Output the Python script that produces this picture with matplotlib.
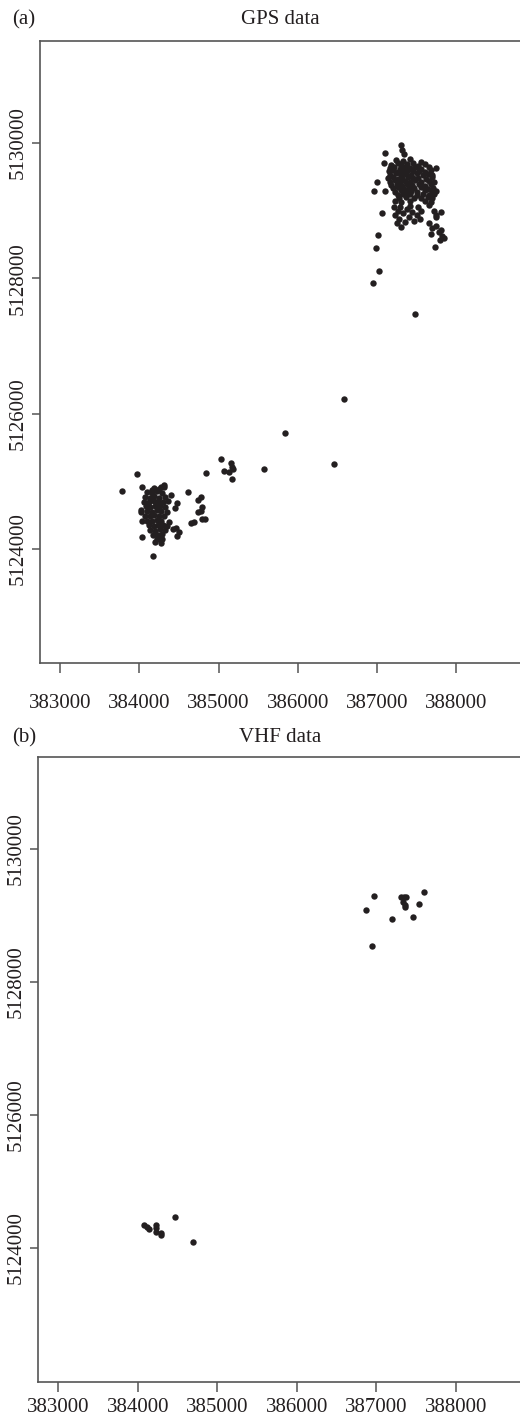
import matplotlib
matplotlib.use("Agg")
import matplotlib.pyplot as plt

plt.rcParams['font.family'] = ['Liberation Serif', 'DejaVu Serif']
plt.rcParams['font.size'] = 15
plt.rcParams['text.color'] = "#231f20"
plt.rcParams['axes.edgecolor'] = "#555555"
plt.rcParams['axes.linewidth'] = 1.2
plt.rcParams['xtick.color'] = "#555555"
plt.rcParams['ytick.color'] = "#555555"
plt.rcParams['xtick.labelcolor'] = "#231f20"
plt.rcParams['ytick.labelcolor'] = "#231f20"

INK = "#231f20"

x_ticks = [383000, 384000, 385000, 386000, 387000, 388000]
y_ticks = [5124000, 5126000, 5128000, 5130000]

# GPS fixes, north-east cluster (dense core)
gps_ne_east = [
    387240, 387330, 387410, 387560,
    387180, 387260, 387300, 387380, 387450, 387520, 387600,
    387160, 387220, 387290, 387350, 387420, 387480, 387560, 387650,
    387150, 387200, 387270, 387330, 387390, 387460, 387530, 387600, 387680,
    387170, 387240, 387300, 387360, 387430, 387500, 387580, 387640, 387700,
    387140, 387200, 387260, 387320, 387390, 387450, 387520, 387620, 387690,
    387160, 387230, 387290, 387350, 387420, 387480, 387550, 387660, 387720,
    387180, 387250, 387310, 387380, 387440, 387530, 387600, 387680,
    387200, 387270, 387340, 387400, 387470, 387560, 387640, 387710,
    387230, 387300, 387360, 387430, 387500, 387600, 387690, 387740,
    387260, 387330, 387420, 387510, 387580, 387650, 387720,
    387280, 387360, 387470, 387560, 387640, 387700,
    387230, 387300, 387420, 387600, 387680,
]
gps_ne_north = [
    5129750, 5129730, 5129760, 5129720,
    5129680, 5129700, 5129670, 5129690, 5129710, 5129660, 5129690,
    5129630, 5129650, 5129620, 5129640, 5129630, 5129650, 5129620, 5129640,
    5129580, 5129600, 5129570, 5129590, 5129600, 5129580, 5129590, 5129570, 5129600,
    5129530, 5129550, 5129520, 5129540, 5129530, 5129550, 5129520, 5129540, 5129530,
    5129480, 5129500, 5129470, 5129490, 5129500, 5129480, 5129490, 5129470, 5129500,
    5129430, 5129450, 5129420, 5129440, 5129430, 5129450, 5129420, 5129440, 5129430,
    5129380, 5129400, 5129370, 5129390, 5129380, 5129400, 5129370, 5129390,
    5129330, 5129350, 5129320, 5129340, 5129330, 5129350, 5129320, 5129340,
    5129280, 5129300, 5129270, 5129290, 5129280, 5129300, 5129270, 5129290,
    5129230, 5129250, 5129240, 5129230, 5129250, 5129230, 5129240,
    5129180, 5129200, 5129190, 5129180, 5129200, 5129190,
    5129140, 5129130, 5129150, 5129140, 5129130,
]

# north-east cluster, southern lobes and scattered fixes
gps_ne2_east = [
    387210, 387260, 387230, 387280, 387250, 387300, 387330, 387380, 387400,
    387440, 387470, 387500, 387540, 387560, 387350, 387290, 387420, 387520,
    387660, 387720, 387750, 387660, 387700, 387740, 387780, 387820, 387840,
    387790, 387680, 387740, 387810,
    387300, 387321, 387338, 387107, 387089, 387750, 386994, 386956, 387107,
    387064, 387804, 387014, 386985, 387729, 387026, 386943, 387485,
]
gps_ne2_north = [
    5129050, 5128990, 5128930, 5128880, 5128820, 5128760, 5128960, 5129020, 5128900,
    5128980, 5128850, 5128930, 5128880, 5128990, 5128830, 5129060, 5129070, 5129060,
    5129080, 5129000, 5128940, 5128820, 5128740, 5128780, 5128680, 5128620, 5128600,
    5128560, 5128650, 5128900, 5128720,
    5129970, 5129897, 5129837, 5129848, 5129700, 5129635, 5129419, 5129295, 5129295,
    5128961, 5128985, 5128640, 5128444, 5128467, 5128113, 5127935, 5127468,
]

# fixes between the two clusters
gps_mid_east = [385030, 385153, 385165, 385178, 385135, 385072, 385169,
                385569, 385841, 386459, 386581]
gps_mid_north = [5125330, 5125266, 5125216, 5125177, 5125142, 5125157, 5125034,
                 5125177, 5125709, 5125256, 5126216]

# south-west cluster (dense core)
gps_sw_east = [
    384180, 384250, 384310,
    384100, 384160, 384220, 384290,
    384070, 384130, 384190, 384250, 384320,
    384060, 384120, 384180, 384240, 384300, 384360,
    384080, 384140, 384200, 384260, 384330,
    384100, 384160, 384220, 384280, 384350,
    384070, 384130, 384190, 384250, 384310,
    384100, 384160, 384220, 384280,
    384120, 384180, 384240, 384300,
    384140, 384200, 384260, 384330,
    384170, 384230, 384290,
    384220, 384280,
]
gps_sw_north = [
    5124900, 5124880, 5124910,
    5124840, 5124820, 5124850, 5124830,
    5124770, 5124760, 5124780, 5124760, 5124770,
    5124700, 5124690, 5124710, 5124700, 5124690, 5124710,
    5124630, 5124620, 5124640, 5124630, 5124620,
    5124560, 5124550, 5124570, 5124560, 5124550,
    5124490, 5124480, 5124500, 5124490, 5124480,
    5124420, 5124410, 5124430, 5124420,
    5124350, 5124340, 5124360, 5124350,
    5124280, 5124270, 5124290, 5124280,
    5124210, 5124200, 5124220,
    5124150, 5124140,
]

# south-west cluster, outer fixes
gps_sw2_east = [
    383778, 383967, 384034, 384315, 384274, 384156, 384396, 384479, 384450,
    384618, 384841, 384736, 384774, 384744, 384787, 384774, 384794, 384832,
    384652, 384690, 384034, 384034, 384169, 384270, 384282, 384198, 384252,
    384472, 384504, 384463, 384421, 384378, 384353, 384018, 384025,
]
gps_sw2_north = [
    5124861, 5125103, 5124920, 5124945, 5124920, 5124871, 5124797, 5124684, 5124601,
    5124846, 5125118, 5124724, 5124764, 5124550, 5124616, 5124565, 5124438, 5124447,
    5124379, 5124403, 5124409, 5124172, 5123896, 5124084, 5124143, 5124107, 5124157,
    5124191, 5124246, 5124305, 5124291, 5124403, 5124339, 5124576, 5124550,
]

# VHF fixes
vhf_east = [384082, 384112, 384141, 384225, 384229, 384229, 384292, 384292,
            384468, 384698,
            386975, 386871, 386950, 387194, 387311, 387349, 387374, 387340,
            387353, 387362, 387529, 387466, 387601]
vhf_north = [5124345, 5124310, 5124280, 5124345, 5124295, 5124244, 5124220, 5124190,
             5124461, 5124094,
             5129293, 5129083, 5128541, 5128943, 5129274, 5129283, 5129274, 5129207,
             5129158, 5129123, 5129168, 5128982, 5129349]

gps_east = gps_ne_east + gps_ne2_east + gps_mid_east + gps_sw_east + gps_sw2_east
gps_north = gps_ne_north + gps_ne2_north + gps_mid_north + gps_sw_north + gps_sw2_north

W, H = 520, 1418
fig = plt.figure(figsize=(W / 100, H / 100), dpi=100)


def panel(left, top, bottom, east, north, ylim, title, tag, title_y, xpad):
    ax = fig.add_axes([left / W, 1 - bottom / H, (521 - left) / W, (bottom - top) / H])
    ax.plot(east, north, 'o', color=INK, markersize=4.6, markeredgewidth=0)
    ax.set_xlim(382747, 388817)
    ax.set_ylim(*ylim)
    ax.set_xticks(x_ticks)
    ax.set_xticklabels([str(v) for v in x_ticks])
    ax.set_yticks(y_ticks)
    ax.set_yticklabels([str(v) for v in y_ticks], rotation=90, va='center')
    ax.spines['right'].set_visible(False)
    ax.tick_params(axis='x', length=7.5, width=1.1, pad=xpad)
    ax.tick_params(axis='y', length=6, width=1.1, pad=3)
    fig.text(280 / W, 1 - title_y / H, title, ha='center', va='center', fontsize=15)
    fig.text(12 / W, 1 - title_y / H, tag, ha='left', va='center', fontsize=15)
    return ax


panel(40, 40.7, 662.7, gps_east, gps_north, (5122319, 5131512), 'GPS data', '(a)', 20, 15)
panel(38, 757, 1382, vhf_east, vhf_north, (5121984, 5131384), 'VHF data', '(b)', 738, 4)

fig.savefig('out.png', dpi=100, facecolor='white')
